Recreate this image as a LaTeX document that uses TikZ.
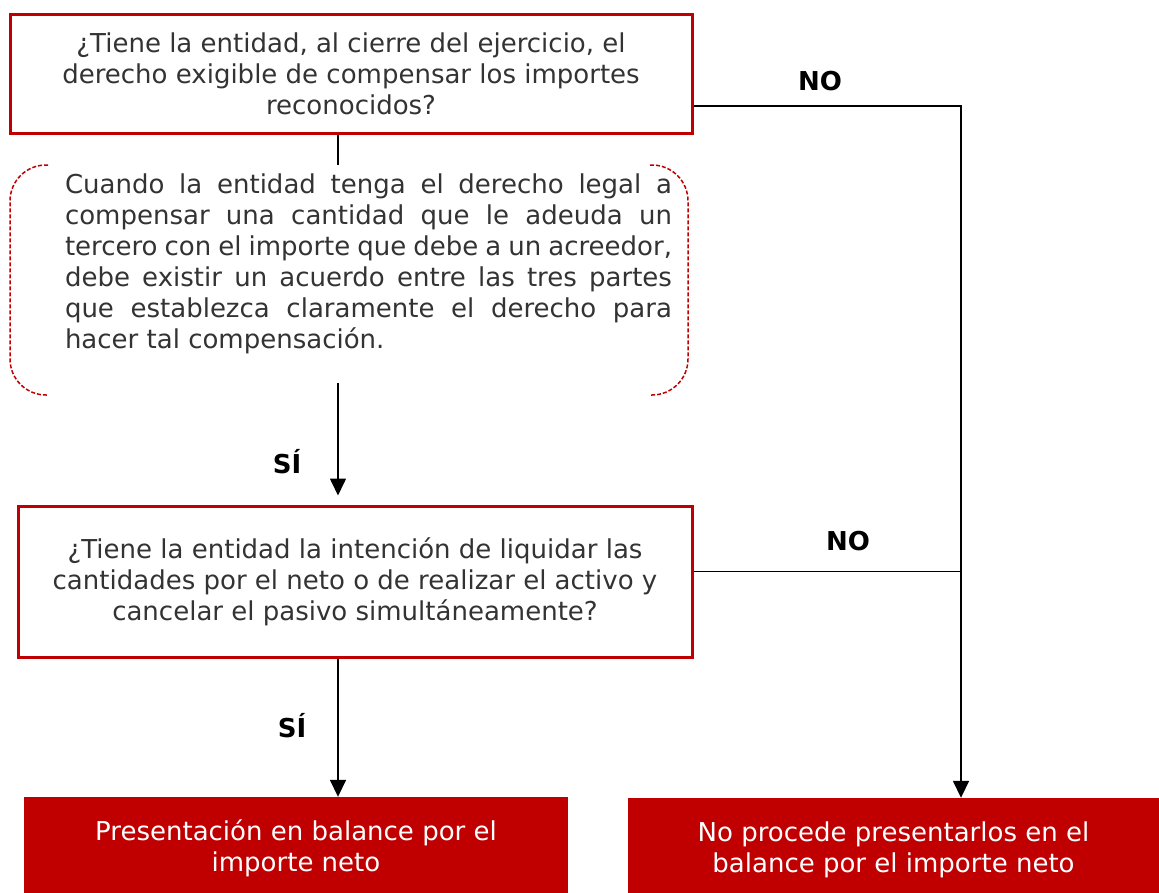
\documentclass[tikz,border=0pt]{standalone}
\usepackage{fontspec}
\setmainfont{DejaVu Sans}
\usetikzlibrary{arrows.meta,calc}
\definecolor{bred}{HTML}{C00000}
\definecolor{txt}{HTML}{333333}
\hyphenpenalty=10000
\exhyphenpenalty=10000
\tolerance=10000
\begin{document}
\begin{tikzpicture}[x=1pt,y=-1pt,
  every node/.style={font=\fontsize{26}{31}\selectfont},
  qbox/.style={draw=bred,line width=3pt,text=txt,align=center,inner sep=0pt},
  rbox/.style={fill=bred,text=white,align=center,inner sep=0pt},
  notebox/.style={text=txt,align=justify,inner sep=0pt,text width=607pt},
  lbl/.style={font=\fontsize{26}{31}\selectfont\bfseries,text=black},
  conn/.style={line width=1.6pt,black},
  arr/.style={conn,-{Triangle[width=16pt,length=17pt]}},
  bracket/.style={draw=bred,line width=1.5pt,dash pattern=on 4pt off 2pt,rounded corners=36pt}]
\useasboundingbox (0,0) rectangle (1159,892);
\clip (0,0) rectangle (1159,892);
\fill[white] (0,0) rectangle (1159,892);

\coordinate (cx) at (338,0);
\coordinate (rx) at (961,0);

\node[qbox,minimum width=682pt,minimum height=119pt] (q1) at (351,74)
  {¿Tiene la entidad, al cierre del ejercicio, el\\derecho exigible de compensar los importes\\reconocidos?};

\node[notebox] (note) at (368.5,264)
  {Cuando la entidad tenga el derecho legal a\linebreak
   compensar una cantidad que le adeuda un\linebreak
   tercero con el importe que debe a un acreedor,\linebreak
   debe existir un acuerdo entre las tres partes\linebreak
   que establezca claramente el derecho para\linebreak
   hacer tal compensación.};

\draw[bracket] (48,165) -- (10,165) -- (10,395) -- (48,395);
\draw[bracket] (650,165) -- (688,165) -- (688,395) -- (650,395);

\node[qbox,minimum width=674pt,minimum height=151pt] (q2) at (355,581.5)
  {¿Tiene la entidad la intención de liquidar las\\cantidades por el neto o de realizar el activo y\\cancelar el pasivo simultáneamente?};

\node[rbox,minimum width=544pt,minimum height=103pt] (r1) at (296,848.5)
  {Presentación en balance por el\\importe neto};
\node[rbox,minimum width=531pt,minimum height=103pt] (r2) at (893.5,849.5)
  {No procede presentarlos en el\\balance por el importe neto};

\node[lbl] (no1) at (820,81) {NO};
\node[lbl] (no2) at (848,541) {NO};
\node[lbl] (si1) at (287,462) {SÍ};
\node[lbl] (si2) at (292,726) {SÍ};

\draw[conn] (q1.south -| cx) -- ($(note.north -| cx)+(0,-9)$);
\draw[arr,shorten >=9pt] ($(note.south -| cx)+(0,29)$) -- (q2.north -| cx);
\draw[arr] (q2.south -| cx) -- (r1.north -| cx);

\coordinate (q1o) at ($(q1.east)+(0,32)$);
\coordinate (q2o) at ($(q2.east)+(0,-10)$);
\draw[arr] (q1o) -| (r2.north -| rx);
\draw[conn] (q2o) -- (q2o -| rx);
\end{tikzpicture}
\end{document}
